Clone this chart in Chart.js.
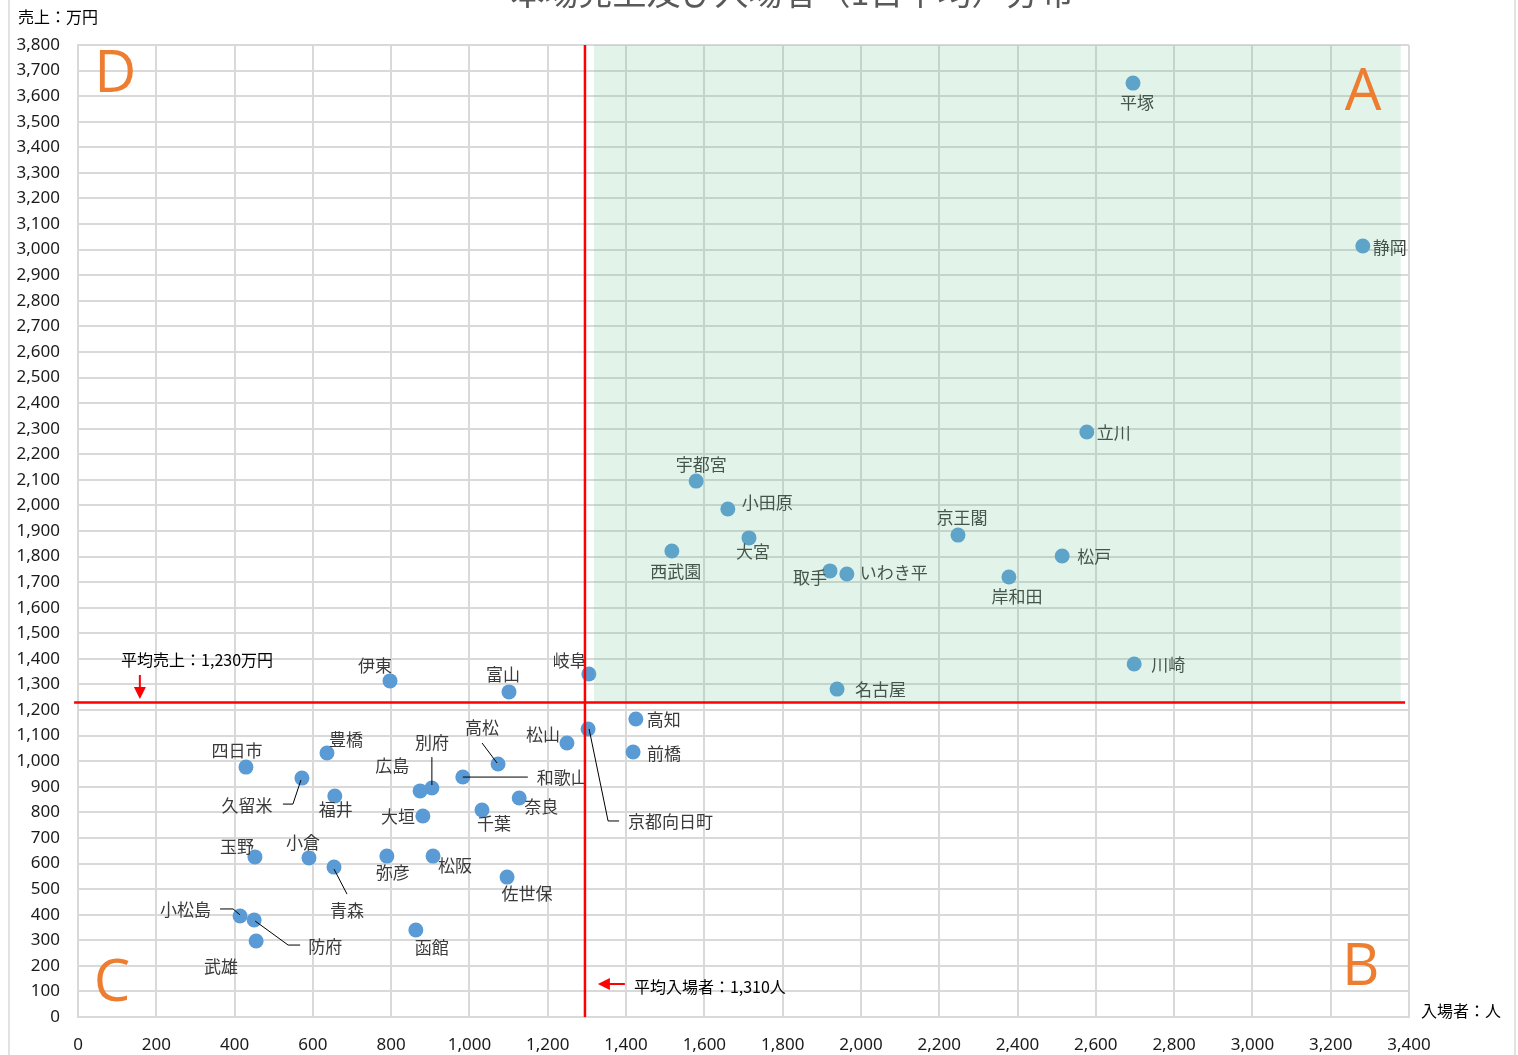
<!DOCTYPE html>
<html lang="ja">
<head>
<meta charset="utf-8">
<title>本場売上及び入場者（1日平均）分布</title>
<script src="https://cdn.jsdelivr.net/npm/chart.js@4.4.1/dist/chart.umd.min.js"></script>
<style>
  html, body { margin: 0; padding: 0; background: #fff; }
  #wrap { position: relative; width: 1518px; height: 1055px; }
</style>
</head>
<body>
<div id="wrap"><canvas id="chart" width="1518" height="1055"></canvas></div>
<script>
// 場名・入場者（人）・売上（万円）
const names = [
  "平塚", "静岡", "立川", "宇都宮", "小田原", "大宮", "西武園", "京王閣", "松戸", "取手",
  "いわき平", "岸和田", "川崎", "名古屋", "岐阜", "伊東", "富山", "高知", "京都向日町", "松山",
  "前橋", "豊橋", "四日市", "高松", "和歌山", "久留米", "別府", "広島", "福井", "奈良",
  "千葉", "大垣", "玉野", "小倉", "弥彦", "松阪", "青森", "佐世保", "小松島", "防府",
  "函館", "武雄"
];
const visitors = [
  2695, 3282, 2577, 1579, 1660, 1714, 1517, 2248, 2514, 1921,
  1964, 2378, 2698, 1939, 1305, 797, 1101, 1425, 1303, 1249,
  1418, 636, 429, 1073, 983, 572, 904, 874, 656, 1127,
  1032, 881, 452, 590, 789, 907, 654, 1096, 414, 450,
  863, 455
];
const sales = [
  3651, 3014, 2287, 2095, 1986, 1873, 1822, 1884, 1802, 1744,
  1732, 1720, 1380, 1282, 1341, 1314, 1271, 1165, 1126, 1071,
  1036, 1032, 977, 989, 938, 934, 895, 884, 864, 856,
  809, 786, 626, 622, 629, 629, 586, 547, 395, 379,
  340, 297
];

const avgSales = 1230;        // 平均売上（万円）
const avgVisitors = 1310;     // 平均入場者（人）
const avgVisitorsDrawn = 1295; // 縦線の描画位置
const xMax = 3400, xStep = 200;
const yMax = 3800, yStep = 100;

// ラベル位置 [dx, dy, align]（点からのピクセル）
const labelPos = {
  "平塚": [4, 19, "center"], "静岡": [10, 1, "left"], "立川": [10, 1, "left"],
  "宇都宮": [5, -17, "center"], "小田原": [14, -6, "left"], "大宮": [4, 14, "center"],
  "西武園": [4, 21, "center"], "京王閣": [4, -18, "center"], "松戸": [15, 0, "left"],
  "取手": [-3, 7, "right"], "いわき平": [13, -1, "left"], "岸和田": [8, 20, "center"],
  "川崎": [17, 1, "left"], "名古屋": [18, 0, "left"], "岐阜": [-19, -13, "center"],
  "伊東": [-15, -15, "center"], "富山": [-6, -17, "center"], "高知": [11, 1, "left"],
  "京都向日町": [40, 93, "left"], "松山": [-24, -9, "center"], "前橋": [14, 2, "left"],
  "豊橋": [19, -13, "center"], "四日市": [-9, -17, "center"], "高松": [-16, -36, "center"],
  "和歌山": [74, 0, "left"], "久留米": [-55, 27, "center"], "別府": [0, -46, "center"],
  "広島": [-28, -25, "center"], "福井": [1, 14, "center"], "奈良": [22, 9, "center"],
  "千葉": [12, 13, "center"], "大垣": [-8, 1, "right"], "玉野": [-18, -10, "center"],
  "小倉": [-6, -15, "center"], "弥彦": [6, 16, "center"], "松阪": [22, 9, "center"],
  "青森": [13, 43, "center"], "佐世保": [20, 16, "center"], "小松島": [-29, -6, "right"],
  "防府": [54, 26, "left"], "函館": [16, 18, "center"], "武雄": [-35, 26, "center"]
};
// 引き出し線（点からのピクセル）
const leaders = {
  "京都向日町": [[1, 0], [20, 92], [31, 92]],
  "高松": [[-16, -21], [-1, -1]],
  "和歌山": [[0, 0], [65, 0]],
  "久留米": [[-1, 2], [-9, 26], [-19, 26]],
  "別府": [[0, -31], [0, -3]],
  "青森": [[0, 2], [13, 27]],
  "小松島": [[-20, -7], [-7, -7], [0, -1]],
  "防府": [[1, 1], [34, 25], [46, 25]]
};

const ctx = document.getElementById("chart");

const decor = {
  id: "decor",
  afterDatasetsDraw(chart) {
    const c = chart.ctx;
    const x = chart.scales.x, y = chart.scales.y;
    const meta = chart.getDatasetMeta(0);
    c.save();

    // データラベル
    c.font = '17px "Noto Sans CJK JP"';
    c.fillStyle = "#3a3a3a";
    c.textBaseline = "middle";
    meta.data.forEach((pt, i) => {
      const name = names[i];
      const lead = leaders[name];
      if (lead) {
        c.strokeStyle = "#000";
        c.lineWidth = 1;
        c.beginPath();
        lead.forEach(([lx, ly], k) => {
          if (k === 0) c.moveTo(pt.x + lx, pt.y + ly);
          else c.lineTo(pt.x + lx, pt.y + ly);
        });
        c.stroke();
      }
      const [dx, dy, align] = labelPos[name] || [0, -18, "center"];
      c.textAlign = align;
      c.fillText(name, pt.x + dx, pt.y + dy);
    });

    // A領域
    c.fillStyle = "rgba(112, 200, 150, 0.2)";
    const gx1 = x.getPixelForValue(1318), gx2 = x.getPixelForValue(3379);
    const gy1 = y.getPixelForValue(yMax), gy2 = y.getPixelForValue(avgSales);
    c.fillRect(gx1, gy1, gx2 - gx1, gy2 - gy1);

    // 平均線
    c.strokeStyle = "#ff0000";
    c.lineWidth = 2.5;
    c.beginPath();
    c.moveTo(x.getPixelForValue(-10), y.getPixelForValue(avgSales));
    c.lineTo(x.getPixelForValue(3390), y.getPixelForValue(avgSales));
    c.moveTo(x.getPixelForValue(avgVisitorsDrawn), y.getPixelForValue(yMax));
    c.lineTo(x.getPixelForValue(avgVisitorsDrawn), y.getPixelForValue(0));
    c.stroke();

    // 矢印
    c.fillStyle = "#ff0000";
    c.lineWidth = 2;
    let ax = x.getPixelForValue(158);
    let ay1 = y.getPixelForValue(1337), ay2 = y.getPixelForValue(1247);
    c.beginPath();
    c.moveTo(ax, ay1); c.lineTo(ax, ay2 - 8); c.stroke();
    c.beginPath();
    c.moveTo(ax - 6, ay2 - 11); c.lineTo(ax + 6, ay2 - 11); c.lineTo(ax, ay2 + 1); c.closePath(); c.fill();

    let by = y.getPixelForValue(129);
    let bx1 = x.getPixelForValue(1397), bx2 = x.getPixelForValue(1328);
    c.beginPath();
    c.moveTo(bx1, by); c.lineTo(bx2 + 8, by); c.stroke();
    c.beginPath();
    c.moveTo(bx2 + 12, by - 6); c.lineTo(bx2 + 12, by + 6); c.lineTo(bx2, by); c.closePath(); c.fill();

    // 注記
    c.fillStyle = "#000";
    c.font = '16px "Noto Sans CJK JP"';
    c.textAlign = "left";
    c.textBaseline = "middle";
    c.fillText("平均売上：" + avgSales.toLocaleString("en-US") + "万円", x.getPixelForValue(110), y.getPixelForValue(1396));
    c.fillText("平均入場者：" + avgVisitors.toLocaleString("en-US") + "人", x.getPixelForValue(1420), y.getPixelForValue(117));

    // 象限記号
    c.fillStyle = "#ED7D31";
    c.font = '58px "Open Sans"';
    c.textAlign = "center";
    c.fillText("D", x.getPixelForValue(95), y.getPixelForValue(3679));
    c.fillText("A", x.getPixelForValue(3283), y.getPixelForValue(3612));
    c.fillText("C", x.getPixelForValue(87), y.getPixelForValue(129));
    c.fillText("B", x.getPixelForValue(3277), y.getPixelForValue(188));

    // 軸タイトル・表題
    c.fillStyle = "#000";
    c.font = '16px "Noto Sans CJK JP"';
    c.textAlign = "left";
    c.fillText("売上：万円", 18, 17);
    c.fillText("入場者：人", 1421, 1011);
    c.fillStyle = "#595959";
    c.font = '34px "Noto Sans CJK JP"';
    c.textAlign = "center";
    c.fillText("本場売上及び入場者（1日平均）分布", 792, -8);

    // 外枠
    c.strokeStyle = "#d9d9d9";
    c.lineWidth = 1.5;
    c.beginPath();
    c.moveTo(9, 0); c.lineTo(9, 1055);
    c.moveTo(1515, 0); c.lineTo(1515, 1055);
    c.stroke();
    c.restore();
  }
};

const tickFont = { family: '"Noto Sans", sans-serif', size: 17 };

const chart = new Chart(ctx, {
  type: "scatter",
  data: {
    datasets: [{
      label: "場",
      data: visitors.map((v, i) => ({ x: v, y: sales[i] })),
      pointRadius: 7.5,
      pointHoverRadius: 7.5,
      backgroundColor: "#5B9BD5",
      borderWidth: 0
    }]
  },
  options: {
    responsive: false,
    animation: false,
    locale: "en-US",
    layout: { padding: { top: 45, right: 109, left: 0, bottom: 0 } },
    plugins: {
      legend: { display: false },
      tooltip: { enabled: false },
      title: { display: false }
    },
    scales: {
      x: {
        type: "linear",
        min: 0,
        max: xMax,
        ticks: { stepSize: xStep, padding: 18, color: "#1a1a1a", font: tickFont, maxRotation: 0 },
        grid: { color: "#d9d9d9", lineWidth: 2, drawTicks: false },
        border: { color: "#d9d9d9", width: 2 },
        afterFit(scale) { scale.height = 38; }
      },
      y: {
        min: 0,
        max: yMax,
        ticks: { stepSize: yStep, padding: 18, color: "#1a1a1a", font: tickFont },
        grid: { color: "#d9d9d9", lineWidth: 2, drawTicks: false },
        border: { color: "#d9d9d9", width: 2 },
        afterFit(scale) { scale.width = 78; }
      }
    }
  },
  plugins: [decor]
});
</script>
</body>
</html>
